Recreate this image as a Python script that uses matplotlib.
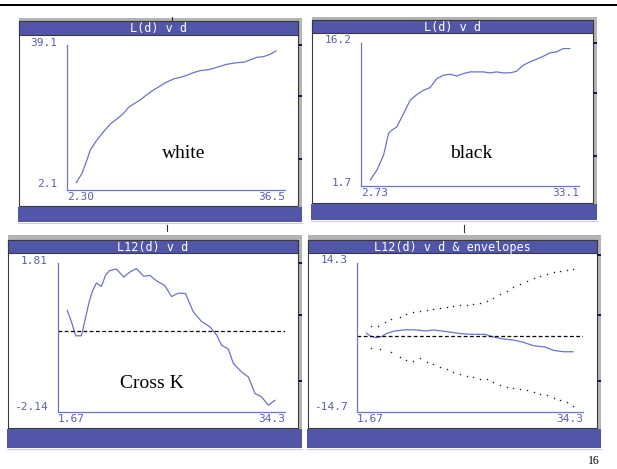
import matplotlib
matplotlib.use('Agg')
import matplotlib.pyplot as plt
from matplotlib.patches import Rectangle

# ---------------- data ----------------
white_d = [3.76, 4.65, 5.43, 5.95, 7.0, 8.04, 9.09, 10.13, 11.18, 11.96, 12.74, 13.79, 14.83,
           15.87, 16.92, 17.96, 19.0, 20.05, 21.1, 22.14, 23.18, 24.75, 25.8, 27.36, 28.93,
           29.97, 31.0, 32.06, 33.1, 34.15, 35.09]
white_L = [3.97, 6.35, 9.76, 12.3, 14.86, 16.99, 18.94, 20.22, 21.66, 23.2, 24.05, 25.07, 26.43,
           27.62, 28.64, 29.66, 30.43, 30.85, 31.37, 32.05, 32.55, 32.89, 33.4, 34.17, 34.59,
           34.68, 35.27, 35.95, 36.12, 36.72, 37.57]

black_d = [4.03, 4.95, 5.88, 6.57, 7.04, 7.73, 8.66, 9.58, 10.51, 11.43, 12.36, 13.29, 14.21,
           15.14, 16.07, 17.0, 17.92, 18.85, 19.77, 20.7, 21.62, 22.55, 23.47, 24.4, 25.32,
           26.25, 27.18, 28.1, 29.03, 29.95, 30.88, 31.81]
black_L = [2.31, 3.32, 4.84, 7.03, 7.37, 7.7, 9.05, 10.4, 10.97, 11.41, 11.68, 12.59, 12.93,
           13.03, 12.86, 13.1, 13.27, 13.27, 13.27, 13.17, 13.27, 13.17, 13.17, 13.33, 13.94,
           14.28, 14.55, 14.85, 15.19, 15.29, 15.63, 15.63]

cross_d = [3.01, 3.59, 4.21, 5.03, 5.51, 6.13, 6.61, 7.19, 7.91, 8.53, 9.11, 10.07, 11.12,
           11.99, 12.95, 14.0, 14.87, 15.83, 17.03, 17.99, 18.95, 20.0, 21.1, 22.3, 23.5,
           24.47, 25.19, 26.15, 26.87, 28.07, 29.03, 29.99, 30.94, 31.9, 32.86]
cross_L = [0.55, 0.26, -0.12, -0.12, 0.26, 0.77, 1.06, 1.28, 1.19, 1.5, 1.61, 1.65, 1.44,
           1.57, 1.66, 1.46, 1.48, 1.34, 1.21, 0.92, 1.01, 1.0, 0.52, 0.26, 0.12,
           -0.1, -0.37, -0.47, -0.85, -1.08, -1.21, -1.65, -1.74, -1.96, -1.83]

l12_d = [3.02, 3.75, 4.57, 5.19, 6.01, 7.12, 8.81, 10.26, 11.61, 12.68, 13.88, 15.33, 16.78,
         17.99, 20.16, 21.36, 22.81, 24.26, 25.71, 27.16, 28.85, 30.05, 31.5, 32.85]
l12_L = [0.62, -0.04, -0.23, -0.04, 0.62, 1.07, 1.33, 1.27, 1.07, 1.27, 1.07, 0.81, 0.55,
         0.42, 0.42, -0.1, -0.49, -0.69, -1.14, -1.8, -2.06, -2.71, -2.97, -2.97]

upper_d = [3.75, 4.71, 5.68, 6.64, 7.85, 8.81, 9.78, 10.74, 11.71, 12.68, 13.64, 14.61, 15.57,
           16.54, 17.5, 18.47, 19.43, 20.4, 21.36, 22.33, 23.29, 24.26, 25.23, 26.19, 27.16,
           28.12, 29.09, 30.05, 31.02, 31.98, 32.85]
upper_L = [2.05, 2.05, 2.77, 3.35, 3.87, 4.33, 4.72, 4.98, 5.18, 5.37, 5.57, 5.83, 6.02,
           6.09, 6.15, 6.28, 6.48, 6.94, 7.46, 8.24, 8.89, 9.54, 10.2, 10.85, 11.37,
           11.82, 12.15, 12.54, 12.8, 13.0, 13.13]
lower_d = [3.75, 4.95, 6.64, 7.85, 8.81, 9.78, 10.74, 11.71, 12.68, 13.64, 14.61, 15.57,
           16.54, 17.5, 18.47, 19.43, 20.4, 21.36, 22.33, 23.29, 24.26, 25.23, 26.19, 27.16,
           28.12, 29.09, 30.05, 31.02, 31.98, 32.85]
lower_L = [-2.32, -2.45, -3.1, -3.95, -4.6, -4.73, -4.27, -4.92, -5.45, -5.9, -6.36, -6.88,
           -7.21, -7.66, -7.86, -8.18, -8.31, -8.83, -9.36, -9.81, -10.01, -10.14, -10.46,
           -10.79, -11.12, -11.44, -11.96, -12.42, -12.75, -13.53]

titles = ['L(d) v d', 'L(d) v d', 'L12(d) v d', 'L12(d) v d & envelopes']
labels = ['white', 'black', 'Cross K']
x_ticklabels = [['2.30', '36.5'], ['2.73', '33.1'], ['1.67', '34.3'], ['1.67', '34.3']]
y_ticklabels = [['2.1', '39.1'], ['1.7', '16.2'], ['-2.14', '1.81'], ['-14.7', '14.3']]
x_limits = [(2.30, 36.5), (2.73, 33.1), (1.67, 34.3), (1.67, 34.3)]
y_limits = [(2.1, 39.1), (1.7, 16.2), (-2.14, 1.81), (-14.7, 14.3)]

# ---------------- style ----------------
W, H = 617, 469
BLUE = '#5256a9'
GRAY = '#b4b4b4'
EDGE = '#3a3a3a'
LINE = '#6c74c4'
LAB = '#5860b0'
MONO = 'DejaVu Sans Mono'
SERIF = 'Liberation Serif'

fig = plt.figure(figsize=(W / 100, H / 100), dpi=100)
bg = fig.add_axes([0, 0, 1, 1])
bg.set_xlim(0, W)
bg.set_ylim(H, 0)
bg.axis('off')


def rect(x0, y0, x1, y1, fc, ec='none', lw=0.0):
    bg.add_patch(Rectangle((x0, y0), x1 - x0, y1 - y0, facecolor=fc,
                           edgecolor=ec, linewidth=lw))


# top rule of the slide
rect(0, 4, W, 6.5, 'black')


def window(x0, x1, gtop, ttop, tbot, pbot, bbot, title, marks):
    rect(x0, gtop, x1 + 4, pbot + 1, GRAY)
    rect(x0, ttop, x1, pbot, 'white', EDGE, 0.8)
    rect(x0, ttop, x1, tbot, BLUE, EDGE, 0.8)
    rect(x0 - 1, pbot + 1, x1 + 4, bbot, BLUE)
    bg.plot([x0 - 1, x1 + 4], [bbot + 1.5, bbot + 1.5], color='#c9cce8', lw=0.8)
    bg.text((x0 + x1) / 2, (ttop + tbot) / 2 + 0.5, title, color='white',
            ha='center', va='center', family=MONO, fontsize=8.5)
    for ym in marks:
        rect(x1, ym - 1, x1 + 4, ym + 1, '#1a1a50')


window(19, 298, 18, 21, 35, 206, 222, titles[0], [45, 96, 159])
window(312, 593, 17, 20, 33, 203, 220, titles[1], [43, 93, 156])
window(8, 298, 235, 240, 253, 428, 448, titles[2], [263, 315, 381])
window(308, 597, 235, 240, 253, 428, 448, titles[3], [255, 315, 381])

# small marks above windows
bg.plot([172, 172], [17, 21], color='#333333', lw=0.8)
bg.plot([167, 167], [225, 231], color='#333333', lw=0.8)
bg.plot([464, 464], [225, 232], color='#333333', lw=0.8)

# axes boxes (pixel layout)
boxes = [(67, 45, 285, 190), (361, 43, 579, 186), (58, 263, 285, 412), (357, 263, 583, 412)]
ylab_off = [(-10, 2, -10, 6), (-9, 3, -9, 3), (-10, 2, -10, 5), (-9, 3, -9, 5)]

axes = []
for i, (x0, y0, x1, y1) in enumerate(boxes):
    ax = fig.add_axes([x0 / W, 1 - y1 / H, (x1 - x0) / W, (y1 - y0) / H])
    ax.set_xlim(*x_limits[i])
    ax.set_ylim(*y_limits[i])
    ax.patch.set_alpha(0)
    for s in ['top', 'right']:
        ax.spines[s].set_visible(False)
    for s in ['left', 'bottom']:
        ax.spines[s].set_color(LINE)
        ax.spines[s].set_linewidth(0.9)
    ax.set_xticks([])
    ax.set_yticks([])
    kw = dict(xycoords='axes fraction', textcoords='offset pixels', color=LAB,
              family=MONO, fontsize=8, annotation_clip=False)
    dxt, dyt, dxb, dyb = ylab_off[i]
    ax.annotate(y_ticklabels[i][1], (0, 1), (dxt, dyt), ha='right', va='center', **kw)
    ax.annotate(y_ticklabels[i][0], (0, 0), (dxb, dyb), ha='right', va='center', **kw)
    ax.annotate(x_ticklabels[i][0], (0, 0), (0, -7), ha='left', va='center', **kw)
    ax.annotate(x_ticklabels[i][1], (1, 0), (0, -7), ha='right', va='center', **kw)
    axes.append(ax)

axes[0].plot(white_d, white_L, color=LINE, lw=0.9)
axes[1].plot(black_d, black_L, color=LINE, lw=0.9)
axes[2].plot(cross_d, cross_L, color=LINE, lw=0.9)
axes[2].axhline(0, color='black', lw=0.9, linestyle=(0, (3, 2)))
axes[3].plot(l12_d, l12_L, color=LINE, lw=0.9)
axes[3].axhline(0, color='black', lw=0.9, linestyle=(0, (3, 2)))
axes[3].plot(upper_d, upper_L, linestyle='none', marker='o', markersize=1.1,
             markeredgewidth=0, color='#222222')
axes[3].plot(lower_d, lower_L, linestyle='none', marker='o', markersize=1.1,
             markeredgewidth=0, color='#222222')

# panel labels
bg.text(184, 153, labels[0], ha='center', va='center', family=SERIF, fontsize=14)
bg.text(471, 153, labels[1], ha='center', va='center', family=SERIF, fontsize=14)
bg.text(152, 383, labels[2], ha='center', va='center', family=SERIF, fontsize=14)

# page number
bg.text(594, 461, '16', ha='center', va='center', family=SERIF, fontsize=8.5)

fig.savefig('out.png', dpi=100)
